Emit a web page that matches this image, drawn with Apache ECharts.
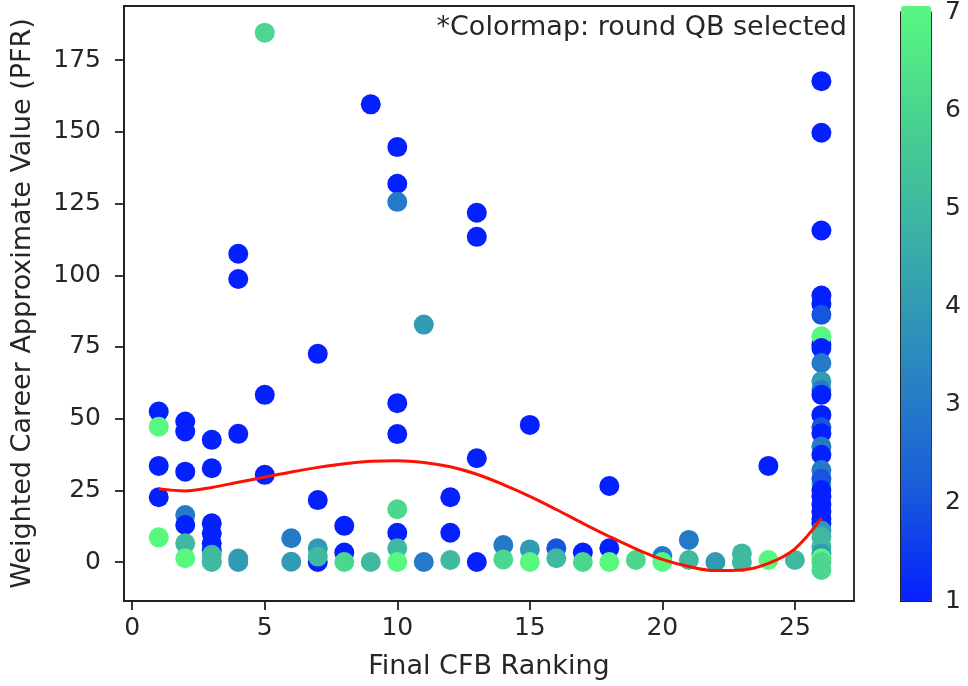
<!DOCTYPE html>
<html>
<head>
<meta charset="utf-8">
<script src="https://cdn.jsdelivr.net/npm/echarts@6/dist/echarts.min.js"></script>
<style>html,body{margin:0;padding:0;background:#fff;}#c{width:968px;height:686px;}</style>
</head>
<body>
<div id="c"></div>
<script>
// Scatter points: [final CFB ranking, weighted career AV, round QB selected]
const rank1 = [[1,52.5,1],[1,47.2,7],[1,33.5,1],[1,22.6,1],[1,8.6,7]];
const rank2 = [[2,49,1],[2,45.5,1],[2,31.5,1],[2,16.4,3],[2,12.9,1],[2,6.5,5],[2,1.3,7]];
const rank3 = [[3,42.6,1],[3,32.7,1],[3,13.5,1],[3,10,1],[3,6.5,1],[3,4,1],[3,2.5,5],[3,0.3,5],[3,0,5]];
const rank4 = [[4,107.5,1],[4,98.7,1],[4,44.7,1],[4,1.2,4],[4,0,4]];
const rank5 = [[5,184.6,6],[5,58.3,1],[5,30.4,1]];
const rank6 = [[6,8.3,3],[6,0.1,4]];
const rank7 = [[7,72.6,1],[7,21.6,1],[7,0,1],[7,4.8,4],[7,1.9,5]];
const rank8 = [[8,12.6,1],[8,3.3,1],[8,0,6]];
const rank9 = [[9,159.6,1],[9,0,5]];
const rank10 = [[10,144.7,1],[10,131.9,1],[10,125.6,3],[10,55.4,1],[10,44.6,1],[10,18.4,6],[10,10.2,1],[10,4.8,5],[10,0,7]];
const rank11 = [[11,82.8,4],[11,0,3]];
const rank12 = [[12,22.6,1],[12,10.2,1],[12,0.7,5]];
const rank13 = [[13,121.8,1],[13,113.4,1],[13,36.2,1],[13,0,1]];
const rank14 = [[14,5.9,3],[14,0.9,6]];
const rank15 = [[15,47.8,1],[15,4.4,4],[15,0,7]];
const rank16 = [[16,4.8,2],[16,1.3,5]];
const rank17 = [[17,3.3,1],[17,0,6]];
const rank18 = [[18,26.5,1],[18,4.8,1],[18,0,7]];
const rank19 = [[19,0.7,6]];
const rank20 = [[20,2.1,3],[20,0,7]];
const rank21 = [[21,7.7,3],[21,0.7,5]];
const rank22 = [[22,0,4]];
const rank23 = [[23,3,5],[23,0,5]];
const rank24 = [[24,33.5,1],[24,0.7,7]];
const rank25 = [[25,0.7,5]];
const rank26 = [[26,167.7,1],[26,149.7,1],[26,115.6,1],[26,92.9,1],[26,90,1],[26,86.2,2],[26,75.8,1],[26,78.7,7],[26,74.6,1],[26,69.4,3],[26,63,4],[26,60,3],[26,58.3,1],[26,51.3,1],[26,47,2],[26,44.9,1],[26,40.3,3],[26,37.4,1],[26,32.1,3],[26,27,6],[26,29,2],[26,25.1,1],[26,22.8,1],[26,20,1],[26,17.5,1],[26,15,1],[26,13.5,1],[26,11,4],[26,8.8,5],[26,5.3,5],[26,3,4],[26,1.3,7],[26,0,6],[26,-2.8,6]];

// Red trend curve at each ranking
const trendX = [1,2,3,4,5,6,7,8,9,10,11,12,13,14,15,16,17,18,19,20,21,22,23,24,25,26];
const trendY = [25.5,24.8,26.0,27.8,29.6,31.4,33.0,34.3,35.1,35.3,34.7,33.2,30.6,27.0,22.9,18.3,13.5,8.9,4.6,0.9,-1.6,-3.0,-2.8,-0.5,4.6,15.3];

const xTicks = [0,5,10,15,20,25];
const yTicks = [0,25,50,75,100,125,150,175];
const cbTicks = [1,2,3,4,5,6,7];

const points = [].concat(rank1,rank2,rank3,rank4,rank5,rank6,rank7,rank8,rank9,rank10,rank11,rank12,rank13,rank14,rank15,rank16,rank17,rank18,rank19,rank20,rank21,rank22,rank23,rank24,rank25,rank26);
const trend = trendX.map((x,i)=>[x,trendY[i]]);

const FONT = 'DejaVu Sans';
const TXT = '#262626';
const chart = echarts.init(document.getElementById('c'), null, {renderer:'canvas'});
chart.setOption({
  animation:false,
  backgroundColor:'#fff',
  textStyle:{fontFamily:FONT},
  grid:[
    {left:124, top:6, width:730, height:595, show:true, borderColor:'#222', borderWidth:1.8, backgroundColor:'transparent'},
    {left:901, top:6, width:30, height:595, show:true, borderColor:'#222', borderWidth:1.8, backgroundColor:'transparent'}
  ],
  xAxis:[
    {type:'value', gridIndex:0, min:-0.31, max:27.23,
     name:'Final CFB Ranking', nameLocation:'middle', nameGap:52,
     nameTextStyle:{fontSize:27, color:TXT, fontFamily:FONT},
     axisLine:{show:true, onZero:false, lineStyle:{color:'#222', width:1.8}},
     axisTick:{show:true, length:9, inside:false, customValues:xTicks, lineStyle:{color:'#222', width:1.8}},
     axisLabel:{customValues:xTicks, fontSize:25, color:TXT, margin:15, fontFamily:FONT},
     splitLine:{show:false}},
    {type:'value', gridIndex:1, min:0, max:1, show:false}
  ],
  yAxis:[
    {type:'value', gridIndex:0, min:-13.6, max:193.9,
     name:'Weighted Career Approximate Value (PFR)', nameLocation:'middle', nameGap:88,
     nameTextStyle:{fontSize:27, color:TXT, fontFamily:FONT},
     axisLine:{show:true, onZero:false, lineStyle:{color:'#222', width:1.8}},
     axisTick:{show:true, length:9, inside:false, customValues:yTicks, lineStyle:{color:'#222', width:1.8}},
     axisLabel:{customValues:yTicks, fontSize:25, color:TXT, margin:23, fontFamily:FONT},
     splitLine:{show:false}},
    {type:'value', gridIndex:1, min:1, max:7, interval:1, position:'right',
     axisLine:{show:true, lineStyle:{color:'#222', width:1.8}},
     axisTick:{show:true, length:9, inside:false, lineStyle:{color:'#222', width:1.8}},
     axisLabel:{fontSize:25, color:TXT, margin:14, fontFamily:FONT},
     splitLine:{show:false}}
  ],
  visualMap:{
    type:'continuous', seriesIndex:0, dimension:2, min:1, max:7,
    calculable:false, realtime:false, text:null, showLabel:false,
    orient:'vertical', left:901, top:6, itemWidth:30, itemHeight:595, padding:0,
    inRange:{color:['#0520ff','#1a5fd8','#2a88c0','#3aaea8','#48d090','#58f880']}
  },
  series:[
    {type:'scatter', xAxisIndex:0, yAxisIndex:0, data:points, symbolSize:20,
     itemStyle:{opacity:1}, z:2},
    {type:'line', xAxisIndex:0, yAxisIndex:0, data:trend, smooth:0.35, showSymbol:false, symbol:'none',
     lineStyle:{color:'#ff1000', width:3}, z:3}
  ],
  graphic:[
    {type:'text', right:121, top:14, style:{text:'*Colormap: round QB selected', font:'27px "DejaVu Sans"', fill:TXT, textAlign:'right'}}
  ]
});
</script>
</body>
</html>
